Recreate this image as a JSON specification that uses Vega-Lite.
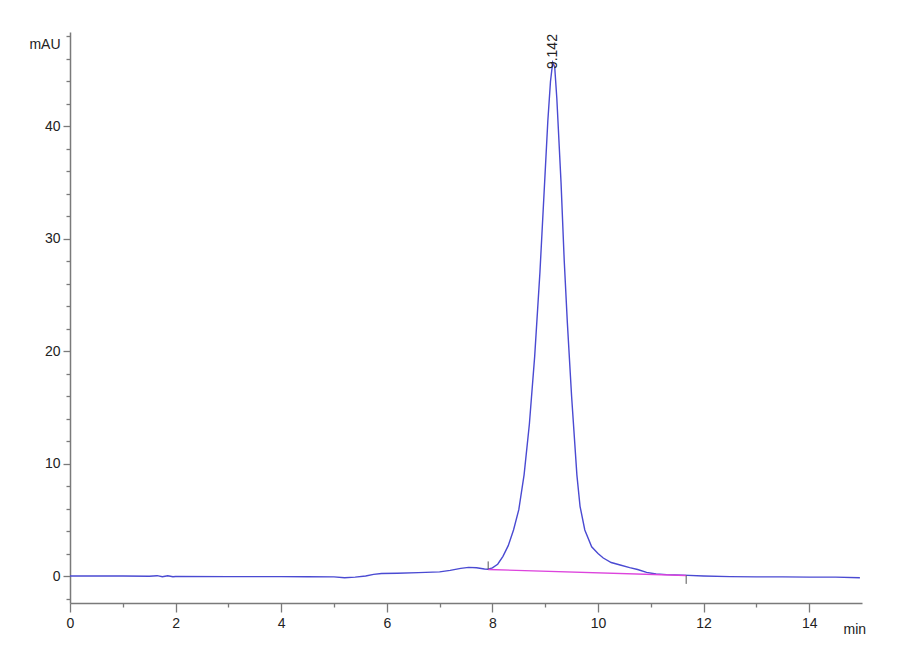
{
  "$schema": "https://vega.github.io/schema/vega-lite/v6.json",
  "autosize": "none",
  "width": 792,
  "height": 571,
  "padding": {"left": 70, "top": 32, "right": 38, "bottom": 57},
  "background": "white",
  "config": {
    "view": {"stroke": null},
    "axis": {
      "labelFont": "Liberation Sans",
      "labelFontSize": 14,
      "labelColor": "#222222",
      "titleFont": "Liberation Sans",
      "titleFontSize": 14,
      "titleFontWeight": "normal",
      "titleColor": "#222222",
      "domainColor": "#7a7a7a",
      "domainWidth": 1.5,
      "tickColor": "#7a7a7a",
      "tickWidth": 1.3,
      "grid": false
    }
  },
  "datasets": {
    "trace": [
      {"t": 0, "mAU": 0}, {"t": 0.5, "mAU": 0}, {"t": 1.0, "mAU": 0}, {"t": 1.5, "mAU": -0.02},
      {"t": 1.65, "mAU": 0.03}, {"t": 1.75, "mAU": -0.06}, {"t": 1.85, "mAU": 0.02}, {"t": 1.95, "mAU": -0.06},
      {"t": 2.0, "mAU": -0.04}, {"t": 3.0, "mAU": -0.05}, {"t": 4.0, "mAU": -0.05}, {"t": 4.5, "mAU": -0.06},
      {"t": 5.0, "mAU": -0.08}, {"t": 5.2, "mAU": -0.15}, {"t": 5.4, "mAU": -0.1}, {"t": 5.6, "mAU": 0.0},
      {"t": 5.75, "mAU": 0.15}, {"t": 5.9, "mAU": 0.22}, {"t": 6.2, "mAU": 0.25}, {"t": 6.6, "mAU": 0.3},
      {"t": 7.0, "mAU": 0.37}, {"t": 7.2, "mAU": 0.5}, {"t": 7.4, "mAU": 0.68}, {"t": 7.55, "mAU": 0.77},
      {"t": 7.7, "mAU": 0.74}, {"t": 7.85, "mAU": 0.62}, {"t": 7.92, "mAU": 0.6}, {"t": 8.0, "mAU": 0.72},
      {"t": 8.1, "mAU": 1.05}, {"t": 8.2, "mAU": 1.75}, {"t": 8.3, "mAU": 2.7}, {"t": 8.4, "mAU": 4.1},
      {"t": 8.5, "mAU": 5.9}, {"t": 8.6, "mAU": 9.0}, {"t": 8.7, "mAU": 13.5}, {"t": 8.8, "mAU": 19.5},
      {"t": 8.9, "mAU": 27}, {"t": 9.0, "mAU": 36}, {"t": 9.05, "mAU": 40.5}, {"t": 9.1, "mAU": 44},
      {"t": 9.142, "mAU": 45.7}, {"t": 9.18, "mAU": 45.3}, {"t": 9.22, "mAU": 42.5}, {"t": 9.3, "mAU": 35},
      {"t": 9.36, "mAU": 28.1}, {"t": 9.42, "mAU": 22.5}, {"t": 9.5, "mAU": 16}, {"t": 9.6, "mAU": 9},
      {"t": 9.66, "mAU": 6.2}, {"t": 9.75, "mAU": 4.1}, {"t": 9.88, "mAU": 2.6}, {"t": 10.0, "mAU": 2.0},
      {"t": 10.1, "mAU": 1.6}, {"t": 10.25, "mAU": 1.2}, {"t": 10.42, "mAU": 0.98}, {"t": 10.6, "mAU": 0.75},
      {"t": 10.75, "mAU": 0.58}, {"t": 10.92, "mAU": 0.32}, {"t": 11.1, "mAU": 0.18}, {"t": 11.3, "mAU": 0.12},
      {"t": 11.6, "mAU": 0.08}, {"t": 12.0, "mAU": 0.0}, {"t": 12.5, "mAU": -0.05}, {"t": 13.0, "mAU": -0.08},
      {"t": 13.5, "mAU": -0.08}, {"t": 14.0, "mAU": -0.1}, {"t": 14.5, "mAU": -0.1}, {"t": 14.96, "mAU": -0.15}
    ],
    "baseline": [
      {"t": 7.92, "mAU": 0.58},
      {"t": 11.67, "mAU": 0.05}
    ],
    "marks": [
      {"t": 7.92, "lo": 0.6, "hi": 1.3},
      {"t": 11.67, "lo": -0.7, "hi": 0.05}
    ],
    "peaks": [
      {"t": 9.142, "mAU": 45.1, "label": "9.142"}
    ]
  },
  "layer": [
    {
      "data": {"name": "trace"},
      "mark": {"type": "line", "color": "#4a4ad2", "strokeWidth": 1.4, "clip": true},
      "encoding": {
        "x": {
          "field": "t", "type": "quantitative",
          "scale": {"domain": [0, 15], "nice": false, "zero": false},
          "axis": {
            "title": "min",
            "titleX": 773, "titleY": 30, "titleAlign": "left", "titleBaseline": "alphabetic",
            "values": [0,0.5,1,1.5,2,2.5,3,3.5,4,4.5,5,5.5,6,6.5,7,7.5,8,8.5,9,9.5,10,10.5,11,11.5,12,12.5,13,13.5,14,14.5],
            "tickCount": 200,
            "format": "d",
            "labelExpr": "datum.value % 2 === 0 ? datum.label : ''",
            "labelOverlap": false,
            "tickSize": {"condition": {"test": "datum.value % 2 === 0", "value": 9}, "value": 4},
            "labelPadding": 4,
            "labelFlush": false
          }
        },
        "y": {
          "field": "mAU", "type": "quantitative",
          "scale": {"domain": [-2.4, 48.4], "nice": false, "zero": false},
          "axis": {
            "title": "mAU",
            "titleAngle": 0, "titleX": -10, "titleY": 12, "titleAlign": "right", "titleBaseline": "middle",
            "values": [-2,0,2,4,6,8,10,12,14,16,18,20,22,24,26,28,30,32,34,36,38,40,42,44,46,48],
            "tickCount": 200,
            "format": "d",
            "labelExpr": "datum.value % 10 === 0 ? datum.label : ''",
            "labelOverlap": false,
            "labelFlush": false,
            "tickSize": {"condition": {"test": "datum.value % 10 === 0", "value": 7}, "value": 4},
            "labelPadding": 3
          }
        }
      }
    },
    {
      "data": {"name": "baseline"},
      "mark": {"type": "line", "color": "#dd44dd", "strokeWidth": 1.4},
      "encoding": {
        "x": {"field": "t", "type": "quantitative"},
        "y": {"field": "mAU", "type": "quantitative"}
      }
    },
    {
      "data": {"name": "marks"},
      "mark": {"type": "rule", "color": "#555555", "strokeWidth": 1},
      "encoding": {
        "x": {"field": "t", "type": "quantitative"},
        "y": {"field": "lo", "type": "quantitative"},
        "y2": {"field": "hi"}
      }
    },
    {
      "data": {"name": "peaks"},
      "mark": {"type": "text", "angle": 270, "align": "left", "baseline": "middle", "font": "Liberation Sans", "fontSize": 14, "color": "#222222"},
      "encoding": {
        "x": {"field": "t", "type": "quantitative"},
        "y": {"field": "mAU", "type": "quantitative"},
        "text": {"field": "label"}
      }
    }
  ]
}
